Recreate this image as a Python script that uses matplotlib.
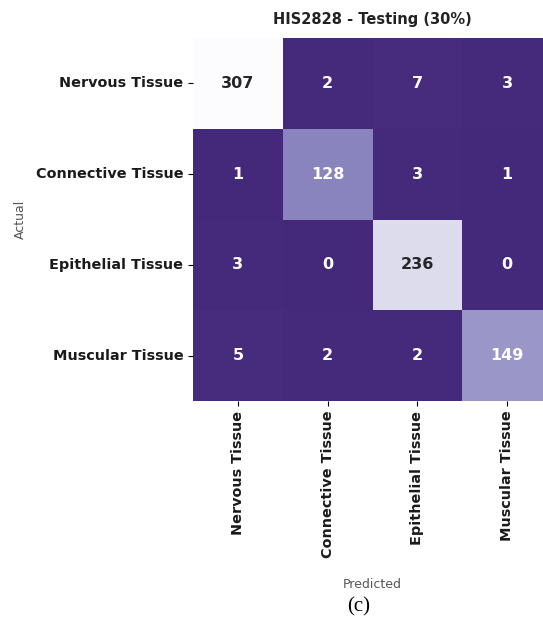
import numpy as np
import matplotlib
matplotlib.use("Agg")
import matplotlib.pyplot as plt
import seaborn as sns
from matplotlib.colors import LinearSegmentedColormap

classes = ["Nervous Tissue", "Connective Tissue", "Epithelial Tissue", "Muscular Tissue"]
# rows = actual, columns = predicted
row_nervous = [307, 2, 7, 3]
row_connective = [1, 128, 3, 1]
row_epithelial = [3, 0, 236, 0]
row_muscular = [5, 2, 2, 149]

cm = np.array([row_nervous, row_connective, row_epithelial, row_muscular])

# muted version of Purples_r
purples = LinearSegmentedColormap.from_list(
    "purples_muted",
    [(0.0, "#44287a"), (0.42, "#8a85bf"), (0.49, "#9b97c8"),
     (0.77, "#dcdcec"), (1.0, "#fcfbfd")])

fig = plt.figure(figsize=(5.43, 6.22), dpi=100)
ax = fig.add_axes([193/543, (622-401)/622, 359/543, 363/622])

sns.heatmap(cm, annot=True, fmt="d", cmap=purples, cbar=False, ax=ax,
            annot_kws={"fontsize": 11.5, "fontweight": "bold"},
            xticklabels=classes, yticklabels=classes)

ax.set_title("HIS2828 - Testing (30%)", fontsize=10.5, fontweight="bold",
             color="#222222", pad=10)
ax.set_xticklabels(classes, rotation=90, fontsize=10.4, fontweight="bold", color="#1a1a1a")
ax.set_yticklabels(classes, rotation=0, fontsize=10.4, fontweight="bold", color="#1a1a1a")
ax.set_xlabel("Predicted", fontsize=9, color="#555555", labelpad=14)
ax.set_ylabel("Actual", fontsize=9, color="#555555", labelpad=6)

fig.text(359/543, 1 - 607/622, "(c)", fontsize=15, family="Liberation Serif",
         ha="center", va="center")

plt.savefig("out.png", dpi=100)
